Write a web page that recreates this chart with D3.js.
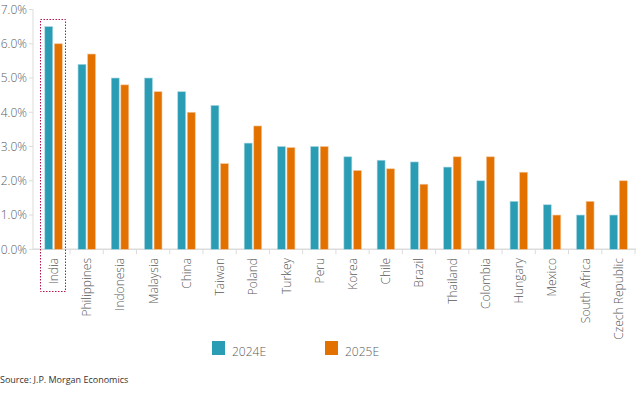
<!DOCTYPE html>
<html>
<head>
<meta charset="utf-8">
<script src="https://cdn.jsdelivr.net/npm/d3@7"></script>
<style>
  body { margin: 0; background: #fff; }
  svg text { font-family: "Open Sans", "Liberation Sans", sans-serif; fill: #5a5a5a; font-weight: 300; }
</style>
</head>
<body>
<svg width="636" height="393"></svg>
<script>
const countries = ['India', 'Philippines', 'Indonesia', 'Malaysia', 'China', 'Taiwan', 'Poland', 'Turkey', 'Peru',
  'Korea', 'Chile', 'Brazil', 'Thailand', 'Colombia', 'Hungary', 'Mexico', 'South Africa', 'Czech Republic'];
const series = ['2024E', '2025E'];
const values2024 = [6.5, 5.4, 5.0, 5.0, 4.6, 4.2, 3.1, 3.0, 3.0, 2.7, 2.6, 2.55, 2.4, 2.0, 1.4, 1.3, 1.0, 1.0];
const values2025 = [6.0, 5.7, 4.8, 4.6, 4.0, 2.5, 3.6, 2.97, 3.0, 2.3, 2.35, 1.9, 2.7, 2.7, 2.25, 1.0, 1.4, 2.0];
const yTicks = [0, 1, 2, 3, 4, 5, 6, 7];
const highlighted = 'India';

const colors = { '2024E': '#2a9db5', '2025E': '#e37100' };
const strokes = { '2024E': '#a8d8e3', '2025E': '#f3c79b' };

const svg = d3.select('svg');

const x = d3.scaleBand().domain(countries).range([36.8, 635]);
const x1 = d3.scaleBand().domain(series).range([8, 25.5]).paddingInner(0.17);
const y = d3.scaleLinear().domain([0, 7]).range([249.3, 9.5]);

// axes lines
const axisColor = '#dcdcdc';
svg.append('line')
  .attr('x1', 33).attr('x2', 33)
  .attr('y1', y(7)).attr('y2', y(0))
  .attr('stroke', axisColor).attr('stroke-width', 1);
svg.append('line')
  .attr('x1', 33).attr('x2', 636)
  .attr('y1', y(0)).attr('y2', y(0))
  .attr('stroke', axisColor).attr('stroke-width', 1.5);

// y ticks + labels
const yg = svg.append('g');
yg.selectAll('line').data(yTicks).enter().append('line')
  .attr('x1', 29).attr('x2', 33)
  .attr('y1', d => y(d)).attr('y2', d => y(d))
  .attr('stroke', axisColor);
yg.selectAll('text').data(yTicks).enter().append('text')
  .attr('x', 27).attr('y', d => y(d) + 4.3)
  .attr('text-anchor', 'end')
  .attr('font-size', 12)
  .text(d => d.toFixed(1) + '%');

// x ticks at band boundaries
const bounds = countries.map(c => x(c) + x.bandwidth());
svg.append('g').selectAll('line').data(bounds).enter().append('line')
  .attr('x1', d => d).attr('x2', d => d)
  .attr('y1', y(0)).attr('y2', y(0) + 5)
  .attr('stroke', axisColor);

// bars
const rows = countries.map((c, i) => ({ country: c, '2024E': values2024[i], '2025E': values2025[i] }));
const groups = svg.append('g').selectAll('g').data(rows).enter().append('g')
  .attr('transform', d => `translate(${x(d.country)},0)`);
groups.selectAll('rect').data(d => series.map(s => ({ key: s, value: d[s] }))).enter().append('rect')
  .attr('x', d => x1(d.key))
  .attr('width', x1.bandwidth())
  .attr('y', d => y(d.value))
  .attr('height', d => y(0) - y(d.value))
  .attr('fill', d => colors[d.key])
  .attr('stroke', d => strokes[d.key])
  .attr('stroke-width', 0.6);

// category labels
svg.append('g').selectAll('text').data(countries).enter().append('text')
  .attr('transform', d => `translate(${x(d) + x.bandwidth() / 2 + 4.5},258) rotate(-90)`)
  .attr('text-anchor', 'end')
  .attr('font-size', 12)
  .text(d => d);

// highlight box around India
svg.append('rect')
  .attr('x', x(highlighted) + 3.7)
  .attr('y', 19.5)
  .attr('width', 25)
  .attr('height', 272)
  .attr('fill', 'none')
  .attr('stroke', '#b3144a')
  .attr('stroke-width', 1)
  .attr('stroke-dasharray', '1.5,1.5');

// legend
const legendX = [212, 325];
const legend = svg.append('g').selectAll('g').data(series).enter().append('g')
  .attr('transform', (d, i) => `translate(${legendX[i]},341)`);
legend.append('rect')
  .attr('width', 13).attr('height', 14)
  .attr('fill', d => colors[d]);
legend.append('text')
  .attr('x', 20).attr('y', 14.5)
  .attr('font-size', 12)
  .text(d => d);

// source
svg.append('text')
  .attr('x', 0).attr('y', 383)
  .attr('font-size', 9)
  .style('fill', '#333')
  .style('font-weight', 400)
  .text('Source: J.P. Morgan Economics');
</script>
</body>
</html>
